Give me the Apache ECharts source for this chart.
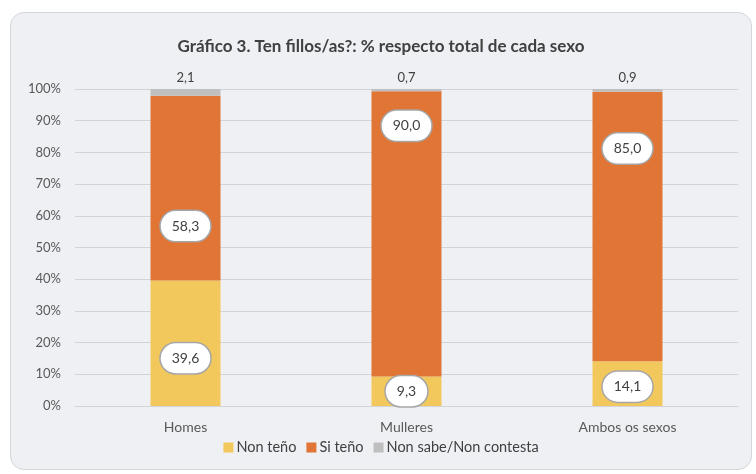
<!DOCTYPE html>
<html>
<head>
<meta charset="utf-8">
<script src="https://cdn.jsdelivr.net/npm/echarts@6/dist/echarts.min.js"></script>
<style>
  * { margin: 0; padding: 0; }
  html, body { width: 756px; height: 474px; background: #fff; }
  .panel { position: absolute; left: 10px; top: 12px; width: 740px; height: 456px;
           background: #eef0f4; border: 1px solid #d3d6db; border-radius: 14px; }
  #chart { width: 740px; height: 456px; }
</style>
</head>
<body>
<div class="panel"><div id="chart"></div></div>
<script>
var categories = ['Homes', 'Mulleres', 'Ambos os sexos']
var nonTeno = [39.6, 9.3, 14.1]
var siTeno = [58.3, 90.0, 85.0]
var nonSabe = [2.1, 0.7, 0.9]
var yTicks = [0, 10, 20, 30, 40, 50, 60, 70, 80, 90, 100]

// hand placed label positions, as in the original (pixels from segment centre)
var nonTenoShift = [15, 0, 3]
var siTenoShift = [38, -108, -78]

var fontFam = 'Lato, "Open Sans", sans-serif'
var fmt = function (p) { return p.value.toFixed(1).replace('.', ',') }

var ovalLabel = {
  show: true,
  formatter: fmt,
  color: '#404040',
  fontSize: 14,
  fontFamily: fontFam,
  backgroundColor: '#fff',
  borderColor: '#a6a6a6',
  borderWidth: 1.5,
  borderRadius: 16,
  padding: [8, 11]
}

function withShift(values, shifts) {
  return values.map(function (v, i) {
    return { value: v, label: { offset: [0, shifts[i]] } }
  })
}

var chart = echarts.init(document.getElementById('chart'))
var options = {
  animation: false,
  title: {
    text: 'Gráfico 3. Ten fillos/as?: % respecto total de cada sexo',
    left: 'center',
    top: 20,
    textStyle: { color: '#404040', fontSize: 17, fontWeight: 'bold', fontFamily: fontFam }
  },
  legend: {
    bottom: 9,
    left: 'center',
    itemWidth: 10,
    itemHeight: 10,
    itemGap: 10,
    icon: 'rect',
    textStyle: { color: '#404040', fontSize: 14.5, fontFamily: fontFam, padding: [0, 0, 0, -2] },
    data: ['Non teño', 'Si teño', 'Non sabe/Non contesta']
  },
  grid: { left: 64, right: 13, top: 76, bottom: 63 },
  xAxis: {
    type: 'category',
    data: categories,
    axisLine: { lineStyle: { color: '#d0d3d8' } },
    axisTick: { show: false },
    axisLabel: { color: '#595959', fontSize: 14, fontFamily: fontFam, margin: 14 }
  },
  yAxis: {
    type: 'value',
    min: yTicks[0],
    max: yTicks[yTicks.length - 1],
    interval: 10,
    axisLine: { show: false },
    axisTick: { show: false },
    axisLabel: { color: '#595959', fontSize: 13, fontFamily: fontFam, margin: 14, formatter: '{value}%' },
    splitLine: { lineStyle: { color: '#d0d3d8', width: 1 } }
  },
  series: [
    {
      name: 'Non teño',
      type: 'bar',
      stack: 'total',
      barWidth: 70,
      itemStyle: { color: '#f2c85c' },
      label: ovalLabel,
      data: withShift(nonTeno, nonTenoShift)
    },
    {
      name: 'Si teño',
      type: 'bar',
      stack: 'total',
      itemStyle: { color: '#e07535' },
      label: ovalLabel,
      data: withShift(siTeno, siTenoShift)
    },
    {
      name: 'Non sabe/Non contesta',
      type: 'bar',
      stack: 'total',
      itemStyle: { color: '#bfbfbf' },
      label: {
        show: true,
        position: 'top',
        distance: 5,
        formatter: fmt,
        color: '#404040',
        fontSize: 13,
        fontFamily: fontFam
      },
      data: nonSabe
    }
  ]
}
chart.setOption(options)
</script>
</body>
</html>
